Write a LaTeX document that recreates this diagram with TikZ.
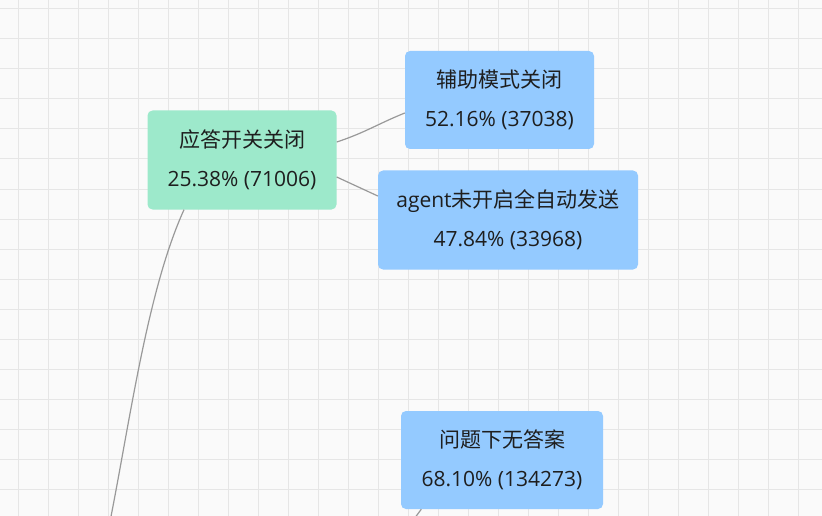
\documentclass[tikz,border=0pt]{standalone}
\usepackage{fontspec}
\setmainfont{Open Sans}
\newfontfamily\cjk{Noto Sans CJK SC}
\usepackage{xcolor}
\usepackage{tikz}
\definecolor{gridbg}{HTML}{FAFAFA}
\definecolor{gridln}{HTML}{E6E6E6}
\definecolor{mintbox}{HTML}{9DE9CB}
\definecolor{skybox}{HTML}{94CAFF}
\definecolor{linkgray}{HTML}{999999}
\definecolor{inkdark}{HTML}{1E1E1E}

\begin{document}
\begin{tikzpicture}[x=1pt,y=-1pt,
  box/.style={rectangle,rounded corners=5pt,inner sep=0pt,align=center,
    text=inkdark,font=\fontsize{21}{39}\selectfont},
  mintnode/.style={box,fill=mintbox},
  skynode/.style={box,fill=skybox},
  link/.style={draw=linkgray,line width=1.2pt}]
\useasboundingbox (0,0) rectangle (822,516);
\fill[gridbg] (0,0) rectangle (822,516);
\foreach \x in {18,48,...,816}
  \draw[gridln,line width=1pt] (\x,0) -- (\x,516);
\foreach \y in {9,39,...,513}
  \draw[gridln,line width=1pt] (0,\y) -- (822,\y);
\clip (0,0) rectangle (822,516);
% nodes
\node[mintnode,minimum width=189pt,minimum height=99pt] (off) at (242,160)
  {{\cjk 应答开关关闭}\\25.38\% (71006)};
\node[skynode,minimum width=189pt,minimum height=98pt] (assist) at (499.5,100)
  {{\cjk 辅助模式关闭}\\52.16\% (37038)};
\node[skynode,minimum width=260pt,minimum height=99pt] (agent) at (508,220)
  {agent{\cjk 未开启全自动发送}\\47.84\% (33968)};
\node[skynode,minimum width=202pt,minimum height=98pt] (noans) at (502,460)
  {{\cjk 问题下无答案}\\68.10\% (134273)};
\coordinate (rootA) at (110.7,518);
\coordinate (rootB) at (414.8,518);
% links
\draw[link] ([yshift=18pt]off.east) to[out=18,in=202] ([yshift=-13pt]assist.west);
\draw[link] ([yshift=-17pt]off.east) -- ([yshift=24pt]agent.west);
\draw[link] (rootA) .. controls (130.7,416) and (148,289) .. ([xshift=-58pt]off.south);
\draw[link] (rootB) -- ([xshift=20.5pt]noans.south west);
\end{tikzpicture}
\end{document}
